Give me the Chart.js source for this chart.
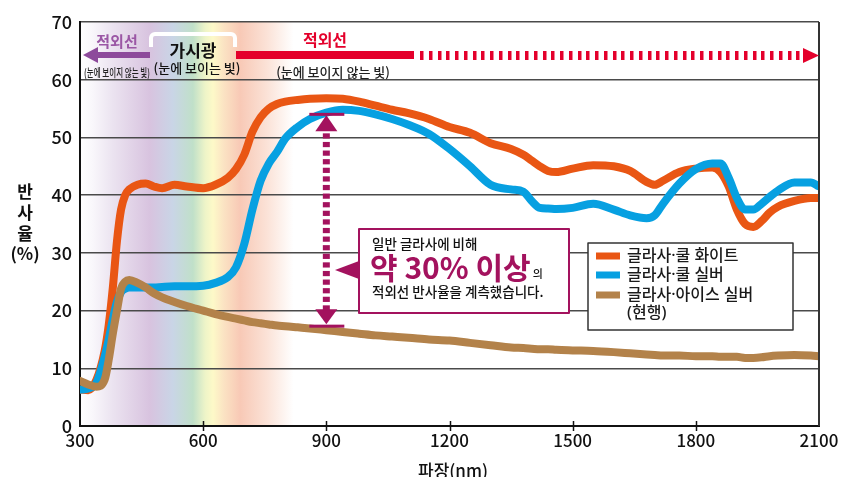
<!DOCTYPE html>
<html>
<head>
<meta charset="utf-8">
<script src="https://cdn.jsdelivr.net/npm/chart.js@4/dist/chart.umd.min.js"></script>
<style>
html,body{margin:0;padding:0;background:#fff;}
#wrap{width:849px;height:477px;position:relative;}
</style>
</head>
<body>
<div id="wrap"><canvas id="c" width="849" height="477"></canvas></div>
<script>
// ---- data ----
const wavelengths = [300,320,340,360,370,380,390,400,410,420,440,460,480,500,530,560,600,630,660,680,700,720,740,760,780,800,830,860,900,940,980,1020,1060,1100,1150,1200,1250,1300,1350,1380,1400,1420,1440,1460,1500,1550,1600,1640,1680,1700,1720,1760,1800,1840,1860,1880,1900,1920,1940,1960,1980,2000,2040,2080,2100];
const coolWhite  = [6.3,6.2,8,13,17.5,24,32,37.5,40,41,41.8,42,41.5,41.2,41.8,41.5,41.2,41.8,43,44.5,47,51,53.5,55,55.8,56.2,56.5,56.7,56.8,56.7,56.2,55.5,54.8,54.2,53.2,51.8,50.8,49,48,47,46,45,44.2,44,44.6,45.2,45,44.2,42.3,41.8,42.5,44,44.6,44.8,44,41.5,37.5,35,34.5,35.5,37,38,39,39.5,39.5];
const coolSilver = [6.3,6.5,7.5,12,15,18.5,21.5,23.2,23.8,24,24,24,24,24.1,24.2,24.2,24.3,24.8,25.8,27.5,31.5,37.5,42.5,45.5,47.5,49.8,51.8,53.2,54.3,54.8,54.6,54,53.2,52.2,50.6,48,45,41.8,41,40.6,39,37.8,37.7,37.6,37.8,38.5,37.5,36.5,36,36.5,38.5,42,44.5,45.5,45.5,43,39.5,37.5,37.5,38.5,39.7,40.8,42.2,42.2,41.5];
const iceSilver  = [7.8,7.2,6.8,8,11.5,16,20,23.8,25,25.3,24.8,24,23,22.3,21.5,20.8,20,19.4,18.9,18.6,18.3,18,17.8,17.6,17.4,17.3,17.1,16.9,16.6,16.3,16,15.7,15.5,15.3,15,14.8,14.4,14,13.6,13.5,13.4,13.3,13.3,13.2,13.1,13,12.8,12.6,12.4,12.3,12.2,12.2,12.1,12.1,12,12,12,11.8,11.8,11.9,12.1,12.2,12.3,12.2,12.1];
const seriesNames = [['글라사·쿨 화이트'], ['글라사·쿨 실버'], ['글라사·아이스 실버', '(현행)']];
const seriesColors = ['#e95614', '#07a0e1', '#b3824a'];
const xTicks = [300,600,900,1200,1500,1800,2100];
const yTicks = [0,10,20,30,40,50,60,70];
const xTitle = '파장(nm)';
const yTitle = ['반','사','율','(%)'];
const calloutLines = ['일반 글라사에 비해', '약 30% 이상', '의', '적외선 반사율을 계측했습니다.'];
const bandLabels = {
  leftIR: '적외선', leftSub: '(눈에 보이지 않는 빛)',
  visible: '가시광', visibleSub: '(눈에 보이는 빛)',
  rightIR: '적외선', rightSub: '(눈에 보이지 않는 빛)'
};
// arrow annotation (wavelength, top value, bottom value)
const markWavelength = 900, markTop = 54, markBottom = 17.3;

const FONT = '"Noto Sans CJK KR", "Noto Sans", sans-serif';
const LFONT = '"Noto Sans", "Noto Sans CJK KR", sans-serif';
const MAG = '#a3125e';

function pts(arr){ return wavelengths.map((w,i)=>({x:w,y:arr[i]})); }

const deco = {
  id:'deco',
  beforeDraw(chart){
    const {ctx, chartArea:a, scales:{x}} = chart;
    ctx.save();
    ctx.fillStyle = '#fff';
    ctx.fillRect(0,0,chart.width,chart.height);
    const x0 = x.getPixelForValue(300), x1 = x.getPixelForValue(820);
    const g = ctx.createLinearGradient(x0,0,x1,0);
    const stops = [[300,'#ffffff'],[330,'#f9f7fb'],[380,'#ebe3f0'],[470,'#d8c3df'],[526,'#c9d5e6'],[575,'#c0e0c9'],[605,'#eef4c8'],[624,'#fdf9c8'],[650,'#fbe3c3'],[690,'#f8c9b6'],[755,'#fbe2d7'],[820,'#ffffff']];
    stops.forEach(([w,c])=>g.addColorStop((w-300)/520,c));
    ctx.fillStyle = g;
    ctx.fillRect(x0,a.top,x1-x0,a.bottom-a.top);
    ctx.restore();
  },
  afterDatasetsDraw(chart){
    const {ctx, chartArea:a, scales:{x,y}} = chart;
    ctx.save();
    // right border
    ctx.strokeStyle = '#333'; ctx.lineWidth = 2;
    ctx.beginPath(); ctx.moveTo(a.right, a.top); ctx.lineTo(a.right, a.bottom); ctx.stroke();
    // x tick marks crossing axis
    ctx.strokeStyle = '#111'; ctx.lineWidth = 1.5;
    xTicks.forEach(t=>{
      if (t===300 || t===2100) return;
      const px = Math.round(x.getPixelForValue(t))+0.5;
      ctx.beginPath(); ctx.moveTo(px, a.bottom-5); ctx.lineTo(px, a.bottom+5); ctx.stroke();
    });

    // ---- top band annotations ----
    ctx.textAlign = 'center'; ctx.textBaseline = 'middle';
    ctx.fillStyle = '#8d4a9b';
    ctx.fillRect(96, 52, 54, 6);
    ctx.beginPath(); ctx.moveTo(83, 55); ctx.lineTo(98, 47); ctx.lineTo(98, 63); ctx.closePath(); ctx.fill();
    ctx.fillStyle = '#9b57a5';
    ctx.font = 'bold 15px ' + FONT;
    ctx.fillText(bandLabels.leftIR, 117, 41);
    ctx.fillStyle = '#222';
    ctx.font = '500 11px ' + FONT;
    ctx.fillText(bandLabels.leftSub, 117, 73, 66);
    ctx.strokeStyle = '#fff'; ctx.lineWidth = 4; ctx.lineJoin = 'round';
    ctx.beginPath();
    ctx.moveTo(151, 47); ctx.lineTo(151, 38); ctx.arcTo(151, 34, 155, 34, 4);
    ctx.lineTo(231, 34); ctx.arcTo(235, 34, 235, 38, 4); ctx.lineTo(235, 47);
    ctx.stroke();
    ctx.fillStyle = '#111';
    ctx.font = 'bold 17px ' + FONT;
    ctx.fillText(bandLabels.visible, 193, 51);
    ctx.font = '500 13px ' + FONT;
    ctx.fillText(bandLabels.visibleSub, 197, 68);
    ctx.fillStyle = '#e4002b';
    ctx.fillRect(236, 51, 178, 8);
    for (let dx = 420; dx < 800; dx += 8.75) ctx.fillRect(Math.round(dx), 51, 3.5, 9);
    ctx.beginPath(); ctx.moveTo(819, 55.5); ctx.lineTo(803, 48); ctx.lineTo(803, 63); ctx.closePath(); ctx.fill();
    ctx.font = 'bold 16px ' + FONT;
    ctx.fillText(bandLabels.rightIR, 325, 40);
    ctx.fillStyle = '#222';
    ctx.font = '500 13px ' + FONT;
    ctx.fillText(bandLabels.rightSub, 333, 72);

    // ---- magenta double arrow ----
    const mx = x.getPixelForValue(markWavelength);
    const yT = y.getPixelForValue(markTop), yB = y.getPixelForValue(markBottom);
    ctx.fillStyle = MAG;
    ctx.fillRect(mx-17, yT-1.5, 35, 3);
    ctx.fillRect(mx-17, yB-1.5, 35, 3);
    ctx.beginPath(); ctx.moveTo(mx, yT+1); ctx.lineTo(mx-11, yT+17); ctx.lineTo(mx+11, yT+17); ctx.closePath(); ctx.fill();
    ctx.beginPath(); ctx.moveTo(mx, yB-2); ctx.lineTo(mx-11, yB-17); ctx.lineTo(mx+11, yB-17); ctx.closePath(); ctx.fill();
    for (let dy = yT+19; dy < yB-19; dy += 8.6) ctx.fillRect(mx-3.5, dy, 7, 5.2);

    // ---- callout box ----
    ctx.fillStyle = '#fff';
    ctx.fillRect(359, 229, 210, 84);
    ctx.strokeStyle = MAG; ctx.lineWidth = 2;
    ctx.strokeRect(359, 229, 210, 84);
    ctx.fillStyle = MAG;
    ctx.beginPath(); ctx.moveTo(335, 270); ctx.lineTo(359, 261); ctx.lineTo(359, 279); ctx.closePath(); ctx.fill();
    ctx.textAlign = 'left';
    ctx.fillStyle = '#111';
    ctx.font = '500 13.5px ' + FONT;
    ctx.fillText(calloutLines[0], 372, 244);
    ctx.fillStyle = MAG;
    ctx.font = 'bold 30px ' + FONT;
    ctx.fillText(calloutLines[1], 370, 268);
    const w1 = ctx.measureText(calloutLines[1]).width;
    ctx.fillStyle = '#111';
    ctx.font = '500 11px ' + FONT;
    ctx.fillText(calloutLines[2], 371 + w1 + 1, 274);
    ctx.font = '500 13.5px ' + FONT;
    ctx.fillText(calloutLines[3], 372, 292);

    // ---- legend ----
    ctx.fillStyle = '#fff';
    ctx.fillRect(588, 243, 205, 87);
    ctx.strokeStyle = '#333'; ctx.lineWidth = 1.5;
    ctx.strokeRect(588, 243, 205, 87);
    ctx.font = '500 16px ' + LFONT;
    const rowY = [256, 275, 295];
    seriesNames.forEach((lines, i)=>{
      ctx.fillStyle = seriesColors[i];
      ctx.fillRect(596, rowY[i]-3.5, 24, 7);
      ctx.fillStyle = '#1a1a1a';
      lines.forEach((ln, j)=> ctx.fillText(ln, 627, rowY[i] + j*18.5));
    });

    // ---- axis titles ----
    ctx.textAlign = 'center';
    ctx.fillStyle = '#111';
    ctx.font = 'bold 17px ' + FONT;
    const yt = [192, 213, 234, 254];
    yTitle.forEach((s,i)=> ctx.fillText(s, 25, yt[i]));
    ctx.font = '500 17px ' + FONT;
    ctx.fillText(xTitle, 453, 471);
    ctx.restore();
  }
};

const ds = (label, data, color, order) => ({
  label, data: pts(data), borderColor: color, backgroundColor: color,
  borderWidth: 8, pointRadius: 0, fill: false, cubicInterpolationMode: 'monotone',
  borderCapStyle: 'round', borderJoinStyle: 'round', order
});

new Chart(document.getElementById('c'), {
  type: 'line',
  data: {
    datasets: [
      ds(seriesNames[0].join(' '), coolWhite, seriesColors[0], 3),
      ds(seriesNames[1].join(' '), coolSilver, seriesColors[1], 2),
      ds(seriesNames[2].join(' '), iceSilver, seriesColors[2], 1)
    ]
  },
  options: {
    responsive: false,
    animation: false,
    devicePixelRatio: 1,
    layout: { padding: { top: 22, right: 30, left: 0, bottom: 0 } },
    plugins: { legend: { display: false }, tooltip: { enabled: false } },
    scales: {
      x: {
        type: 'linear', min: 300, max: 2100,
        afterFit: s => { s.height = 51; },
        afterBuildTicks: s => { s.ticks = xTicks.map(v=>({value:v})); },
        grid: { display: false },
        border: { display: true, color: '#111', width: 2 },
        ticks: { color: '#111', padding: -4, maxRotation: 0, callback: v => String(v),
                 font: { family: FONT, size: 17, weight: '500' } }
      },
      y: {
        min: 0, max: 70,
        afterFit: s => { s.width = 80; },
        afterBuildTicks: s => { s.ticks = yTicks.map(v=>({value:v})); },
        grid: { color: '#4a4a4a', lineWidth: 1.5, drawTicks: false },
        border: { display: true, color: '#111', width: 2 },
        ticks: { color: '#111', padding: 8, font: { family: FONT, size: 18, weight: '500' } }
      }
    }
  },
  plugins: [deco]
});
</script>
</body>
</html>
